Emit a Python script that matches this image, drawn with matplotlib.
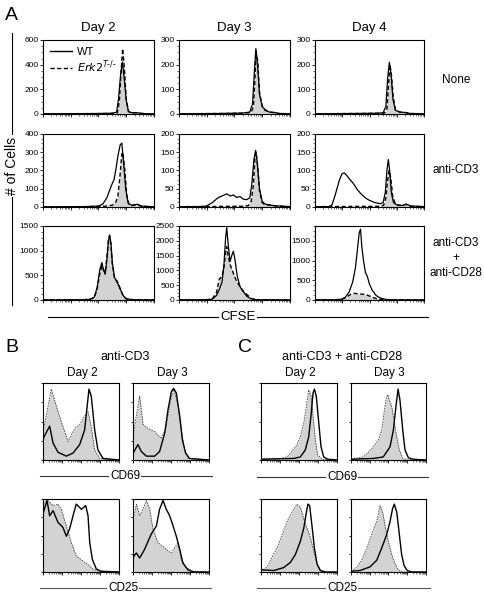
import numpy as np
import matplotlib
matplotlib.use("Agg")
import matplotlib.pyplot as plt
from matplotlib.lines import Line2D
from matplotlib.ticker import AutoMinorLocator, LogLocator, NullFormatter

plt.rcParams['font.family'] = ['Liberation Sans', 'DejaVu Sans']

W, H = 485, 599
GRAY = '#d3d3d3'

# ---- Panel A: CFSE histograms (x in log10 units, y = # of cells) ----
days = ["Day 2", "Day 3", "Day 4"]
conditions = ["None", "anti-CD3", "anti-CD3\n+\nanti-CD28"]
a_ylims = [[600, 300, 300], [400, 200, 200], [1500, 2500, 1880]]
a_yticks = [[[0, 200, 400, 600], [0, 100, 200, 300], [0, 100, 200, 300]],
            [[0, 100, 200, 300, 400], [0, 50, 100, 150, 200], [0, 50, 100, 150, 200]],
            [[0, 500, 1000, 1500], [0, 500, 1000, 1500, 2000, 2500], [0, 500, 1000, 1500]]]

# None
none_d2_wt_x = [0, 1.0, 2.0, 2.5, 2.65, 2.72, 2.8, 2.86, 2.92, 3.0, 3.08, 3.2, 3.35, 3.5, 3.7, 4.0]
none_d2_wt_y = [2, 3, 4, 6, 15, 120, 330, 420, 300, 110, 20, 10, 12, 6, 3, 1]
none_d2_ko_x = [0, 1.0, 2.0, 2.5, 2.68, 2.75, 2.82, 2.87, 2.93, 3.0, 3.08, 3.2, 3.35, 3.5, 3.7, 4.0]
none_d2_ko_y = [1, 2, 3, 5, 10, 100, 360, 530, 380, 120, 20, 8, 10, 5, 2, 1]
none_d3_wt_x = [0, 1.5, 2.3, 2.55, 2.65, 2.72, 2.77, 2.83, 2.9, 3.0, 3.1, 3.25, 3.45, 3.6, 4.0]
none_d3_wt_y = [1, 2, 4, 8, 40, 180, 265, 200, 80, 30, 18, 8, 6, 2, 1]
none_d3_ko_x = [0, 1.5, 2.3, 2.6, 2.68, 2.74, 2.78, 2.84, 2.9, 3.0, 3.1, 3.25, 3.45, 3.6, 4.0]
none_d3_ko_y = [1, 2, 3, 6, 30, 150, 255, 210, 90, 30, 15, 8, 5, 2, 1]
none_d4_wt_x = [0, 1.5, 2.3, 2.5, 2.6, 2.67, 2.73, 2.79, 2.86, 2.95, 3.1, 3.3, 3.5, 4.0]
none_d4_wt_y = [1, 2, 3, 5, 30, 150, 210, 160, 60, 15, 8, 6, 2, 1]
none_d4_ko_x = [0, 1.5, 2.3, 2.55, 2.64, 2.7, 2.75, 2.8, 2.87, 2.95, 3.1, 3.3, 3.5, 4.0]
none_d4_ko_y = [1, 2, 3, 4, 20, 120, 200, 165, 70, 18, 8, 6, 2, 1]

# anti-CD3
cd3_d2_wt_x = [0, 1.5, 2.0, 2.15, 2.3, 2.42, 2.5, 2.56, 2.62, 2.7, 2.78, 2.84, 2.9, 2.98, 3.07, 3.2, 3.4, 3.55, 4.0]
cd3_d2_wt_y = [1, 2, 5, 15, 50, 100, 130, 150, 200, 280, 340, 350, 250, 100, 20, 10, 15, 5, 1]
cd3_d2_ko_x = [0, 1.5, 2.2, 2.5, 2.62, 2.7, 2.78, 2.84, 2.88, 2.95, 3.02, 3.1, 3.2, 3.4, 3.55, 4.0]
cd3_d2_ko_y = [1, 2, 4, 10, 25, 60, 180, 290, 300, 200, 60, 15, 8, 12, 4, 1]
cd3_d3_wt_x = [0, 0.8, 1.0, 1.2, 1.4, 1.6, 1.72, 1.85, 1.96, 2.08, 2.2, 2.3, 2.44, 2.55, 2.62, 2.7, 2.76,
               2.82, 2.9, 3.0, 3.1, 3.3, 3.5, 4.0]
cd3_d3_wt_y = [1, 1, 3, 12, 25, 32, 36, 30, 33, 26, 29, 22, 20, 25, 60, 130, 155, 120, 50, 15, 8, 5, 3, 1]
cd3_d3_ko_x = [0, 2.3, 2.5, 2.6, 2.68, 2.74, 2.78, 2.84, 2.9, 3.0, 3.1, 3.3, 3.5, 4.0]
cd3_d3_ko_y = [1, 2, 4, 15, 60, 140, 150, 110, 45, 12, 6, 5, 3, 1]
cd3_d4_wt_x = [0, 0.5, 0.62, 0.75, 0.9, 1.0, 1.08, 1.15, 1.25, 1.4, 1.55, 1.7, 1.85, 2.0, 2.2, 2.4, 2.5,
               2.58, 2.64, 2.69, 2.74, 2.8, 2.88, 3.0, 3.2, 3.35, 3.5, 4.0]
cd3_d4_wt_y = [1, 1, 5, 35, 75, 92, 93, 88, 78, 65, 48, 35, 25, 18, 12, 9, 12, 40, 100, 130, 100, 40, 12,
               6, 4, 8, 3, 1]
cd3_d4_ko_x = [0, 2.4, 2.52, 2.6, 2.66, 2.72, 2.78, 2.85, 2.95, 3.1, 3.35, 3.5, 4.0]
cd3_d4_ko_y = [1, 2, 5, 25, 70, 100, 80, 30, 8, 4, 7, 2, 1]

# anti-CD3 + anti-CD28
cd28_d2_wt_x = [0, 1.4, 1.7, 1.85, 1.95, 2.05, 2.12, 2.18, 2.24, 2.3, 2.36, 2.4, 2.45, 2.5, 2.58, 2.65,
                2.72, 2.8, 2.9, 3.0, 3.1, 3.3, 4.0]
cd28_d2_wt_y = [2, 5, 15, 60, 250, 620, 760, 620, 520, 800, 1200, 1320, 1150, 750, 450, 380, 300, 200,
                80, 30, 15, 5, 2]
cd28_d2_ko_x = cd28_d2_wt_x
cd28_d2_ko_y = [2, 5, 12, 50, 220, 540, 690, 600, 560, 850, 1250, 1300, 1100, 720, 430, 400, 330, 200,
                70, 25, 12, 5, 2]
cd28_d3_wt_x = [0, 1.0, 1.2, 1.35, 1.45, 1.55, 1.62, 1.68, 1.72, 1.77, 1.84, 1.9, 1.96, 2.02, 2.1, 2.2,
                2.3, 2.45, 2.6, 2.8, 4.0]
cd28_d3_wt_y = [5, 8, 30, 150, 350, 600, 1200, 2100, 2450, 1900, 1300, 1500, 1650, 1350, 800, 450, 300,
                120, 40, 10, 3]
cd28_d3_ko_x = cd28_d3_wt_x
cd28_d3_ko_y = [5, 8, 40, 250, 700, 800, 1100, 1600, 1800, 1500, 1200, 1050, 900, 750, 600, 450, 320,
                180, 50, 10, 3]
cd28_d4_wt_x = [0, 0.7, 0.95, 1.1, 1.25, 1.38, 1.48, 1.56, 1.62, 1.67, 1.72, 1.78, 1.85, 1.92, 2.0, 2.1,
                2.25, 2.4, 2.6, 2.8, 4.0]
cd28_d4_wt_y = [3, 5, 20, 60, 200, 450, 800, 1300, 1700, 1800, 1350, 1000, 700, 600, 400, 250, 110, 50,
                15, 5, 2]
cd28_d4_ko_x = [0, 0.8, 1.0, 1.15, 1.3, 1.45, 1.55, 1.7, 1.85, 2.0, 2.15, 2.3, 2.5, 4.0]
cd28_d4_ko_y = [3, 5, 20, 70, 140, 170, 160, 150, 140, 100, 60, 25, 8, 2]

a_curves = [
    [(none_d2_wt_x, none_d2_wt_y, none_d2_ko_x, none_d2_ko_y),
     (none_d3_wt_x, none_d3_wt_y, none_d3_ko_x, none_d3_ko_y),
     (none_d4_wt_x, none_d4_wt_y, none_d4_ko_x, none_d4_ko_y)],
    [(cd3_d2_wt_x, cd3_d2_wt_y, cd3_d2_ko_x, cd3_d2_ko_y),
     (cd3_d3_wt_x, cd3_d3_wt_y, cd3_d3_ko_x, cd3_d3_ko_y),
     (cd3_d4_wt_x, cd3_d4_wt_y, cd3_d4_ko_x, cd3_d4_ko_y)],
    [(cd28_d2_wt_x, cd28_d2_wt_y, cd28_d2_ko_x, cd28_d2_ko_y),
     (cd28_d3_wt_x, cd28_d3_wt_y, cd28_d3_ko_x, cd28_d3_ko_y),
     (cd28_d4_wt_x, cd28_d4_wt_y, cd28_d4_ko_x, cd28_d4_ko_y)],
]

# ---- Panels B/C: CD69 / CD25 (y normalised to mode) ----
b69_d2_wt_x = [0.0, 0.05, 0.35, 0.53, 0.79, 1.23, 1.58, 1.93, 2.19, 2.42, 2.54, 2.72, 2.89, 3.16, 4.0]
b69_d2_wt_y = [0.25, 0.30, 0.44, 0.22, 0.10, 0.05, 0.09, 0.20, 0.39, 0.92, 0.83, 0.39, 0.13, 0.02, 0.0]
b69_d2_ko_x = [0.0, 0.05, 0.44, 0.70, 0.96, 1.32, 1.67, 1.93, 2.19, 2.37, 2.54, 2.72, 2.98, 4.0]
b69_d2_ko_y = [0.35, 0.43, 0.92, 0.70, 0.50, 0.24, 0.41, 0.46, 0.57, 0.63, 0.43, 0.13, 0.02, 0.0]
b69_d3_wt_x = [0.0, 0.05, 0.26, 0.44, 0.70, 1.14, 1.40, 1.67, 1.84, 2.02, 2.14, 2.28, 2.46, 2.60, 2.77,
               2.98, 4.0]
b69_d3_wt_y = [0.08, 0.11, 0.20, 0.11, 0.05, 0.05, 0.11, 0.35, 0.65, 0.89, 0.93, 0.87, 0.57, 0.26, 0.09,
               0.02, 0.0]
b69_d3_ko_x = [0.0, 0.05, 0.35, 0.53, 0.79, 1.14, 1.49, 1.75, 1.93, 2.11, 2.19, 2.37, 2.54, 2.72, 2.89, 4.0]
b69_d3_ko_y = [0.30, 0.39, 0.83, 0.46, 0.41, 0.37, 0.28, 0.43, 0.70, 0.91, 0.89, 0.70, 0.39, 0.13, 0.02,
               0.0]
b25_d2_wt_x = [0.0, 0.05, 0.21, 0.35, 0.53, 0.79, 1.05, 1.23, 1.40, 1.58, 1.75, 2.02, 2.25, 2.37, 2.46,
               2.60, 2.81, 3.07, 4.0]
b25_d2_wt_y = [0.80, 0.84, 0.98, 0.77, 0.84, 0.68, 0.61, 0.49, 0.59, 0.77, 0.93, 0.86, 0.91, 0.77, 0.40,
               0.17, 0.04, 0.01, 0.0]
b25_d2_ko_x = [0.0, 0.05, 0.26, 0.53, 0.79, 0.96, 1.23, 1.49, 1.75, 2.11, 2.37, 2.63, 2.98, 4.0]
b25_d2_ko_y = [0.90, 0.95, 0.98, 0.91, 0.93, 0.86, 0.63, 0.40, 0.22, 0.15, 0.10, 0.04, 0.01, 0.0]
b25_d3_wt_x = [0.0, 0.05, 0.18, 0.35, 0.61, 0.96, 1.23, 1.40, 1.58, 1.75, 1.93, 2.11, 2.28, 2.46, 2.63,
               2.89, 3.16, 4.0]
b25_d3_wt_y = [0.18, 0.22, 0.26, 0.19, 0.31, 0.52, 0.63, 0.86, 0.98, 0.86, 0.77, 0.63, 0.49, 0.31, 0.12,
               0.03, 0.0, 0.0]
b25_d3_ko_x = [0.0, 0.05, 0.18, 0.35, 0.53, 0.70, 0.88, 1.05, 1.32, 1.58, 1.84, 2.02, 2.19, 2.37, 2.54,
               2.81, 3.16, 4.0]
b25_d3_ko_y = [0.70, 0.77, 0.93, 0.77, 0.86, 0.98, 0.86, 0.59, 0.40, 0.35, 0.29, 0.26, 0.33, 0.40, 0.17,
               0.06, 0.01, 0.0]

c69_d2_wt_x = [0.0, 1.72, 2.07, 2.33, 2.51, 2.63, 2.74, 2.81, 2.91, 3.04, 3.16, 3.30, 3.51, 4.0]
c69_d2_wt_y = [0.01, 0.02, 0.04, 0.13, 0.30, 0.57, 0.87, 0.92, 0.83, 0.48, 0.17, 0.04, 0.01, 0.0]
c69_d2_ko_x = [0.0, 1.02, 1.37, 1.63, 1.89, 2.07, 2.25, 2.39, 2.51, 2.63, 2.74, 2.86, 2.98, 3.21, 4.0]
c69_d2_ko_y = [0.01, 0.02, 0.04, 0.11, 0.20, 0.30, 0.48, 0.70, 0.91, 0.83, 0.57, 0.26, 0.07, 0.01, 0.0]
c69_d3_wt_x = [0.0, 1.19, 1.72, 2.08, 2.26, 2.40, 2.51, 2.61, 2.76, 2.88, 3.06, 3.32, 4.0]
c69_d3_wt_y = [0.01, 0.02, 0.04, 0.17, 0.39, 0.70, 0.92, 0.78, 0.39, 0.13, 0.03, 0.01, 0.0]
c69_d3_ko_x = [0.0, 0.66, 0.92, 1.19, 1.46, 1.64, 1.76, 1.87, 1.96, 2.04, 2.17, 2.29, 2.44, 2.58, 2.76,
               2.97, 4.0]
c69_d3_ko_y = [0.01, 0.04, 0.10, 0.17, 0.26, 0.39, 0.61, 0.80, 0.85, 0.78, 0.70, 0.52, 0.30, 0.13, 0.02,
               0.01, 0.0]
c25_d2_wt_x = [0.0, 0.05, 0.67, 1.19, 1.54, 1.81, 2.07, 2.25, 2.39, 2.47, 2.56, 2.68, 2.81, 2.95, 3.12,
               3.39, 4.0]
c25_d2_wt_y = [0.02, 0.03, 0.02, 0.06, 0.13, 0.24, 0.42, 0.60, 0.82, 0.93, 0.91, 0.64, 0.33, 0.11, 0.02,
               0.0, 0.0]
c25_d2_ko_x = [0.0, 0.05, 0.32, 0.58, 0.84, 1.11, 1.37, 1.63, 1.89, 2.07, 2.25, 2.42, 2.60, 2.77, 2.95,
               3.12, 3.39, 4.0]
c25_d2_ko_y = [0.01, 0.02, 0.07, 0.20, 0.33, 0.51, 0.69, 0.82, 0.93, 0.89, 0.73, 0.60, 0.47, 0.29, 0.11,
               0.03, 0.0, 0.0]
c25_d3_wt_x = [0.0, 0.48, 1.01, 1.37, 1.64, 1.90, 2.08, 2.22, 2.31, 2.44, 2.58, 2.70, 2.83, 3.00, 3.24, 4.0]
c25_d3_wt_y = [0.01, 0.02, 0.07, 0.16, 0.33, 0.51, 0.69, 0.87, 0.93, 0.82, 0.51, 0.24, 0.09, 0.02, 0.0,
               0.0]
c25_d3_ko_x = [0.0, 0.08, 0.30, 0.57, 0.84, 1.10, 1.37, 1.55, 1.69, 1.81, 1.99, 2.17, 2.35, 2.52, 2.79, 4.0]
c25_d3_ko_y = [0.01, 0.03, 0.06, 0.16, 0.33, 0.51, 0.69, 0.91, 0.82, 0.64, 0.42, 0.24, 0.11, 0.03, 0.0, 0.0]


def fx(x):
    return x / W


def fy(y):
    return 1 - y / H


def add_ax(fig, left, right, top, bottom):
    return fig.add_axes([fx(left), fy(bottom), (right - left) / W, (bottom - top) / H])


def draw_hist(ax, wt_x, wt_y, ko_x, ko_y, ko_color, ko_lw, wt_lw, dashes):
    kx = 10 ** np.array(ko_x)
    ax.fill_between(kx, ko_y, color=GRAY, lw=0)
    ax.plot(kx, ko_y, color=ko_color, lw=ko_lw, dashes=dashes)
    ax.plot(10 ** np.array(wt_x), wt_y, color='black', lw=wt_lw)
    ax.set_xscale('log')
    ax.set_xlim(1, 1e4)
    ax.xaxis.set_major_locator(LogLocator(base=10, numticks=10))
    ax.xaxis.set_minor_locator(LogLocator(base=10, subs=np.arange(2, 10), numticks=10))
    ax.xaxis.set_major_formatter(NullFormatter())
    ax.xaxis.set_minor_formatter(NullFormatter())
    ax.tick_params(axis='both', which='major', length=2.2, width=0.6, direction='out', pad=1,
                   labelsize=6)
    ax.tick_params(axis='both', which='minor', length=1.2, width=0.4, direction='out')
    for s in ax.spines.values():
        s.set_linewidth(0.8)


def hline_label(fig, x0, x1, y, text, xc, size=8, color='black', lcolor='black'):
    fig.add_artist(Line2D([fx(x0), fx(x1)], [fy(y), fy(y)], color=lcolor, lw=0.8,
                          transform=fig.transFigure))
    fig.text(fx(xc), fy(y), text, ha='center', va='center', fontsize=size, color=color,
             bbox=dict(facecolor='white', edgecolor='none', pad=1.0))


fig = plt.figure(figsize=(W / 100, H / 100), dpi=100)

# ---- Panel A ----
a_cols = [(43, 154), (179, 290), (315, 424)]
a_rows = [(40, 114), (134, 207), (226, 300)]
for r, (top, bottom) in enumerate(a_rows):
    for c, (left, right) in enumerate(a_cols):
        ax = add_ax(fig, left, right, top, bottom)
        wx, wy, kx, ky = a_curves[r][c]
        draw_hist(ax, wx, wy, kx, ky, 'black', 1.0, 0.9, (3.0, 1.8))
        ax.set_ylim(0, a_ylims[r][c])
        ax.set_yticks(a_yticks[r][c])
        ax.yaxis.set_minor_locator(AutoMinorLocator(4))
        if r == 0 and c == 0:
            handles = [Line2D([], [], color='black', lw=1.0),
                       Line2D([], [], color='black', lw=1.0, dashes=(3.0, 1.8))]
            ax.legend(handles, ['WT', r'$\mathit{Erk2}^{\mathit{T}\text{-/-}}$'], loc='upper left',
                      frameon=False, fontsize=8, handlelength=2.0, handletextpad=0.5,
                      borderaxespad=0.2, labelspacing=0.15)
for c, (left, right) in enumerate(a_cols):
    fig.text(fx((left + right) / 2), fy(28), days[c], ha='center', va='center', fontsize=9.5)
cond_y = [80, 170, 258]
for r, label in enumerate(conditions):
    fig.text(fx(456), fy(cond_y[r]), label, ha='center', va='center', fontsize=8.5,
             linespacing=1.3)

fig.text(fx(11), fy(16), "A", ha='center', va='center', fontsize=14)
fig.add_artist(Line2D([fx(12), fx(12)], [fy(33), fy(305)], color='black', lw=0.8,
                      transform=fig.transFigure))
fig.text(fx(12), fy(166), "# of Cells", ha='center', va='center', rotation=90, fontsize=10,
         bbox=dict(facecolor='white', edgecolor='none', pad=1.5))
hline_label(fig, 48, 428, 317, "CFSE", 238, size=9.5)

# ---- Panels B and C ----
bc_rows = [(383, 460), (499, 572)]
b_cols = [(43, 119), (133, 209)]
c_cols = [(261, 337), (351, 426)]
b_curves = [[(b69_d2_wt_x, b69_d2_wt_y, b69_d2_ko_x, b69_d2_ko_y),
             (b69_d3_wt_x, b69_d3_wt_y, b69_d3_ko_x, b69_d3_ko_y)],
            [(b25_d2_wt_x, b25_d2_wt_y, b25_d2_ko_x, b25_d2_ko_y),
             (b25_d3_wt_x, b25_d3_wt_y, b25_d3_ko_x, b25_d3_ko_y)]]
c_curves = [[(c69_d2_wt_x, c69_d2_wt_y, c69_d2_ko_x, c69_d2_ko_y),
             (c69_d3_wt_x, c69_d3_wt_y, c69_d3_ko_x, c69_d3_ko_y)],
            [(c25_d2_wt_x, c25_d2_wt_y, c25_d2_ko_x, c25_d2_ko_y),
             (c25_d3_wt_x, c25_d3_wt_y, c25_d3_ko_x, c25_d3_ko_y)]]
for cols, curves in [(b_cols, b_curves), (c_cols, c_curves)]:
    for r, (top, bottom) in enumerate(bc_rows):
        for c, (left, right) in enumerate(cols):
            ax = add_ax(fig, left, right, top, bottom)
            wx, wy, kx, ky = curves[r][c]
            draw_hist(ax, wx, wy, kx, ky, '#444444', 0.6, 1.0, (2.0, 1.2))
            ax.set_ylim(0, 1.0)
            ax.set_yticks([0, 0.25, 0.5, 0.75, 1.0])
            ax.set_yticklabels([])
            ax.tick_params(axis='y', which='major', length=1.5)
    for c, (left, right) in enumerate(cols):
        fig.text(fx((left + right) / 2 + 1), fy(373), days[c], ha='center', va='center', fontsize=8.5)

fig.text(fx(12), fy(347), "B", ha='center', va='center', fontsize=14)
fig.text(fx(245), fy(347), "C", ha='center', va='center', fontsize=14)
fig.text(fx(125), fy(357), "anti-CD3", ha='center', va='center', fontsize=9)
fig.text(fx(342), fy(357), "anti-CD3 + anti-CD28", ha='center', va='center', fontsize=9)
hline_label(fig, 40, 212, 476, "CD69", 125, size=8.5, lcolor='#333333')
hline_label(fig, 40, 211, 588, "CD25", 123, size=8.5, lcolor='#555555')
hline_label(fig, 257, 428, 477, "CD69", 342, size=8.5, lcolor='#333333')
hline_label(fig, 257, 430, 588, "CD25", 342, size=8.5, lcolor='#555555')

fig.savefig("out.png", dpi=100)
